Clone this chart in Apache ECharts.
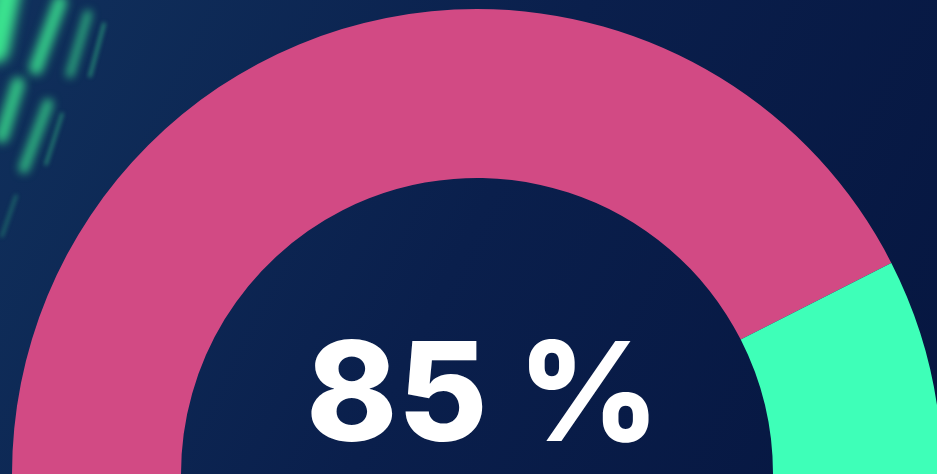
<!DOCTYPE html>
<html>
<head>
<meta charset="utf-8">
<script src="https://cdn.jsdelivr.net/npm/echarts@6/dist/echarts.min.js"></script>
<style>
  html, body { margin: 0; padding: 0; background: #071a45; }
  #main { width: 937px; height: 474px; }
</style>
</head>
<body>
<div id="main"></div>
<script>
// 半环形进度
var categories = ['完成', '剩余'];
var values = [85, 15];
var colors = ['#d24a84', '#3effb8'];

var chart = echarts.init(document.getElementById('main'));

var total = values.reduce(function (a, b) { return a + b; }, 0);
var pieData = categories.map(function (name, i) {
    return { name: name, value: values[i], itemStyle: { color: colors[i] } };
});
// 下半圈透明占位
pieData.push({ name: '', value: total, itemStyle: { color: 'transparent' }, emphasis: { disabled: true } });

// 左上角绿色光带（线画在画布外，只留模糊的阴影）
var OFF = 2000;
function streak(x1, y1, x2, y2, w, op, blur) {
    return {
        type: 'line',
        shape: { x1: x1 - OFF, y1: y1, x2: x2 - OFF, y2: y2 },
        style: {
            stroke: '#3be38f', lineWidth: w, lineCap: 'round',
            shadowBlur: blur, shadowColor: 'rgba(59,227,143,' + op + ')',
            shadowOffsetX: OFF, shadowOffsetY: 0
        },
        silent: true
    };
}

var option = {
    backgroundColor: new echarts.graphic.LinearGradient(0, 0, 1, 1, [
        { offset: 0, color: '#10305c' },
        { offset: 0.5, color: '#0a1f4c' },
        { offset: 1, color: '#061640' }
    ]),
    graphic: [
        streak(8, -10, -4, 50, 26, 1, 12),
        streak(60, 2, 36, 68, 14, 0.85, 10),
        streak(88, 14, 70, 74, 8, 0.7, 8),
        streak(104, 24, 90, 76, 3, 0.55, 4),
        streak(18, 84, 2, 136, 14, 0.8, 10),
        streak(48, 104, 24, 168, 11, 0.7, 9),
        streak(62, 114, 46, 164, 3, 0.5, 4),
        streak(16, 196, 2, 236, 3, 0.35, 4)
    ],
    series: [
        {
            type: 'pie',
            center: [477, 474],
            radius: [296, 465],
            startAngle: 180,
            silent: true,
            label: { show: false },
            labelLine: { show: false },
            data: pieData
        }
    ],
    title: {
        text: values[0] + ' %',
        left: 478,
        textAlign: 'center',
        top: 326,
        textStyle: {
            color: '#ffffff',
            fontFamily: 'Inter',
            fontWeight: 800,
            fontSize: 138
        }
    }
};

chart.setOption(option);
</script>
</body>
</html>
